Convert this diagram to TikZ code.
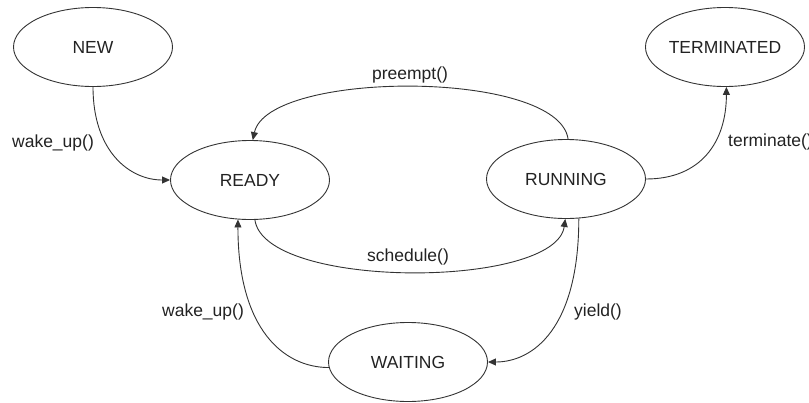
\documentclass[tikz,border=0pt]{standalone}
\usepackage{fontspec}
\setmainfont{Liberation Sans}
\usetikzlibrary{shapes.geometric,arrows.meta}
\definecolor{linecol}{HTML}{333333}
\definecolor{textcol}{HTML}{222222}
\begin{document}
\begin{tikzpicture}[x=1pt,y=-1pt,
  state/.style={ellipse,draw=linecol,line width=0.9pt,minimum width=159pt,minimum height=79pt,inner sep=0pt,text=textcol,font=\fontsize{17.5}{20}\selectfont},
  lbl/.style={text=textcol,font=\fontsize{17.5}{20}\selectfont,inner sep=0pt},
  edge/.style={draw=linecol,line width=0.9pt,-{Triangle[length=8pt,width=7pt]}}]
\useasboundingbox (0,0) rectangle (809,402);
\node[state] (new) at (93,47) {NEW};
\node[state] (ready) at (250,180) {READY};
\node[state] (running) at (566,179) {RUNNING};
\node[state] (term) at (725,47) {TERMINATED};
\node[state] (waiting) at (408,362) {WAITING};

\draw[edge] (new.south) .. controls +(0,65) and +(-40,0) .. (ready.west);
\draw[edge] (running.87) .. controls +(-10,-70) and +(15,-70) .. (ready.86);
\draw[edge] (ready.-83) .. controls +(10,70) and +(-10,70) .. (running.-91);
\draw[edge] (running.-72) .. controls +(0,110) and +(45,0) .. (waiting.east);
\draw[edge] (waiting.184) .. controls +(-45,0) and +(0,110) .. (ready.-107);
\draw[edge] (running.east) .. controls +(55,0) and +(0,55) .. (term.-88);

\node[lbl] (l1) at (53,143) {wake\_up()};
\node[lbl] (l2) at (410,75) {preempt()};
\node[lbl] (l3) at (408,257) {schedule()};
\node[lbl] (l4) at (203,312) {wake\_up()};
\node[lbl] (l5) at (598,312) {yield()};
\node[lbl,anchor=west] (l6) at (728,142) {terminate()};
\end{tikzpicture}
\end{document}
